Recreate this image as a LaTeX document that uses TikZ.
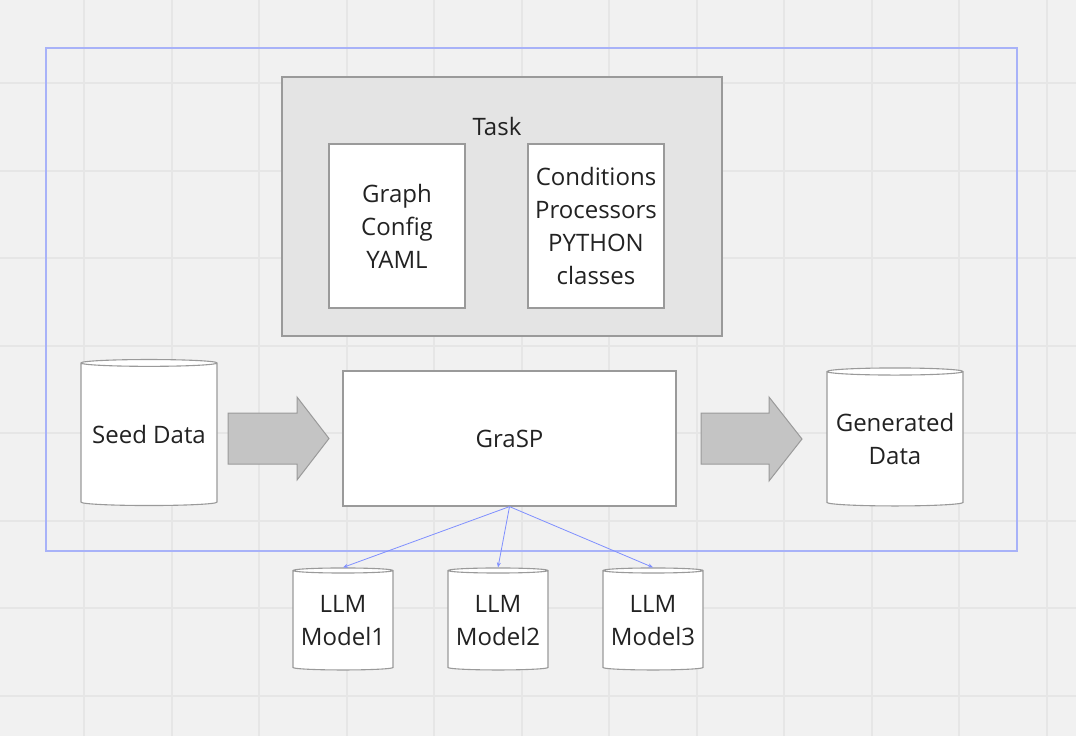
\documentclass[tikz,border=0pt]{standalone}
\usepackage{fontspec}
\setmainfont{Open Sans}
\usetikzlibrary{shapes.geometric,arrows.meta}
\definecolor{bg}{HTML}{F1F1F1}
\definecolor{gridc}{HTML}{E6E6E6}
\definecolor{frameblue}{HTML}{A8B2F8}
\definecolor{linkblue}{HTML}{7F8FFF}
\definecolor{taskfill}{HTML}{E4E4E4}
\definecolor{boxline}{HTML}{9A9A9A}
\definecolor{txt}{HTML}{222222}
\definecolor{arrowfill}{HTML}{C4C4C4}
\tikzset{
  lbl/.style={font=\fontsize{24}{33}\selectfont, text=txt, align=center},
  whitebox/.style={draw=boxline, line width=1.2pt, fill=white, lbl, inner sep=0pt},
  db/.style={cylinder, shape border rotate=90, draw=boxline, line width=1.1pt, fill=white,
    cylinder uses custom fill, cylinder body fill=white, cylinder end fill=white,
    lbl, inner sep=0pt, aspect=0.06},
  link/.style={draw=linkblue, line width=0.8pt, -{Stealth[length=5pt,width=4pt]}},
  blockarrow/.style={draw=boxline, line width=1pt, fill=arrowfill}
}
\begin{document}
\begin{tikzpicture}[x=1pt,y=-1pt]
\useasboundingbox (0,0) rectangle (1076,736);
\fill[bg] (0,0) rectangle (1076,736);
\foreach \i in {0,...,11} {\draw[gridc, line width=2pt] ({84+87.5*\i},0) -- ({84+87.5*\i},736);}
\foreach \i in {0,...,7} {\draw[gridc, line width=2pt] (0,{83+87.5*\i}) -- (1076,{83+87.5*\i});}
% outer frame
\draw[frameblue, line width=1.2pt] (46,48) rectangle (1017,551);
% task
\node[draw=boxline, line width=1.5pt, fill=taskfill, minimum width=440pt, minimum height=259pt, inner sep=0pt] (task) at (502,206.5) {};
\node[lbl] (tasklbl) at (497,126) {Task};
\node[whitebox, minimum width=136pt, minimum height=164pt] (graph) at (397,226) {Graph\\Config\\YAML};
\node[whitebox, minimum width=136pt, minimum height=164pt] (cond) at (596,226) {Conditions\\Processors\\PYTHON\\classes};
% main row
\node[db, minimum width=136pt, minimum height=146pt] (seed) at (149,434.5) {Seed Data};
\node[whitebox, minimum width=333pt, minimum height=135pt] (grasp) at (509.5,438.5) {GraSP};
\node[db, minimum width=136pt, minimum height=138pt] (gen) at (895,439) {Generated\\Data};
\draw[blockarrow] (228,413) -- (297,413) -- (297,397) -- (329,438.5) -- (297,480) -- (297,464) -- (228,464) -- cycle;
\draw[blockarrow] (701,413) -- (769,413) -- (769,397) -- (802,439) -- (769,481) -- (769,464) -- (701,464) -- cycle;
% llms
\node[db, minimum width=100pt, minimum height=102pt] (llm1) at (343,620.5) {LLM\\Model1};
\node[db, minimum width=100pt, minimum height=102pt] (llm2) at (498,620.5) {LLM\\Model2};
\node[db, minimum width=100pt, minimum height=102pt] (llm3) at (653,620.5) {LLM\\Model3};
\draw[link] (grasp.south) -- (llm1.north);
\draw[link] (grasp.south) -- (llm2.north);
\draw[link] (grasp.south) -- (llm3.north);
\end{tikzpicture}
\end{document}
